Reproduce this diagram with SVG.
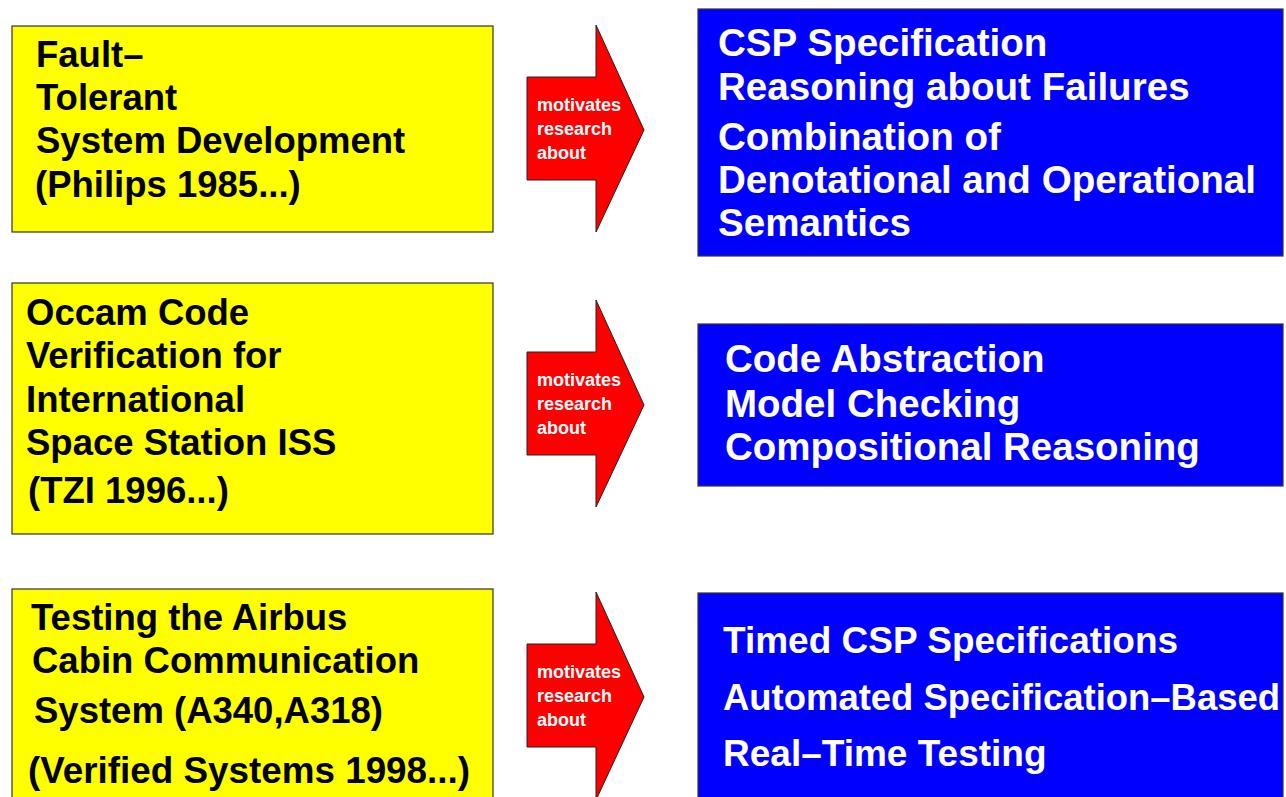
<svg xmlns="http://www.w3.org/2000/svg" width="1286" height="797" viewBox="0 0 1286 797">
<style>
.y{fill:#ffff00;stroke:#333;stroke-width:1.2}
.b{fill:#0000ff;stroke:#333;stroke-width:1.2}
.ar{fill:#ff0000;stroke:#222;stroke-width:1;stroke-linejoin:miter}
text{font-family:"Liberation Sans",Arial,sans-serif;font-weight:bold}
.ty{fill:#000;font-size:36.5px}
.tb{fill:#fff;font-size:37px}
.tb2{fill:#fff;font-size:38.5px}
.tb1{fill:#fff;font-size:38.6px}
.ta{fill:#fff;font-size:18px}
</style>
<rect width="1286" height="797" fill="#fff"/>
<g id="src1">
<rect class="y" x="12" y="26" width="481" height="206"/>
<text class="ty" x="36" y="67">Fault–</text>
<text class="ty" x="36" y="110">Tolerant</text>
<text class="ty" x="36" y="153">System Development</text>
<text class="ty" x="35" y="197">(Philips 1985...)</text>
</g>
<g id="src2">
<rect class="y" x="12" y="283" width="481" height="251"/>
<text class="ty" x="26" y="325">Occam Code</text>
<text class="ty" x="26" y="368">Verification for</text>
<text class="ty" x="26" y="412">International</text>
<text class="ty" x="26" y="455">Space Station ISS</text>
<text class="ty" x="28" y="503">(TZI 1996...)</text>
</g>
<g id="src3">
<rect class="y" x="12" y="589" width="481" height="215"/>
<text class="ty" x="31" y="630">Testing the Airbus</text>
<text class="ty" x="32" y="673">Cabin Communication</text>
<text class="ty" x="34" y="723">System (A340,A318)</text>
<text class="ty" x="28" y="783" textLength="442" lengthAdjust="spacingAndGlyphs">(Verified Systems 1998...)</text>
</g>
<g id="connectors">
<polygon class="ar" points="527,77 596,77 596,25 644,130 596,232 596,180 527,180"/>
<polygon class="ar" points="527,352 596,352 596,300 644,405 596,507 596,455 527,455"/>
<polygon class="ar" points="527,644 596,644 596,592 644,697 596,800 596,747 527,747"/>
<text class="ta" x="537" y="111">motivates</text>
<text class="ta" x="537" y="135">research</text>
<text class="ta" x="537" y="159">about</text>
<text class="ta" x="537" y="386">motivates</text>
<text class="ta" x="537" y="410">research</text>
<text class="ta" x="537" y="434">about</text>
<text class="ta" x="537" y="678">motivates</text>
<text class="ta" x="537" y="702">research</text>
<text class="ta" x="537" y="726">about</text>
</g>
<g id="tgt1">
<rect class="b" x="698" y="9" width="585" height="247"/>
<text class="tb1" x="718" y="56">CSP Specification</text>
<text class="tb1" x="718" y="100">Reasoning about Failures</text>
<text class="tb1" x="718" y="150">Combination of</text>
<text class="tb1" x="718" y="193">Denotational and Operational</text>
<text class="tb1" x="718" y="236">Semantics</text>
</g>
<g id="tgt2">
<rect class="b" x="698" y="324" width="585" height="162"/>
<text class="tb2" x="725" y="372">Code Abstraction</text>
<text class="tb2" x="725" y="417">Model Checking</text>
<text class="tb2" x="725" y="460">Compositional Reasoning</text>
</g>
<g id="tgt3">
<rect class="b" x="698" y="593" width="585" height="215"/>
<text class="tb" x="723" y="653">Timed CSP Specifications</text>
<text class="tb" x="723" y="710" textLength="557" lengthAdjust="spacingAndGlyphs">Automated Specification–Based</text>
<text class="tb" x="723" y="766">Real–Time Testing</text>
</g>
</svg>
